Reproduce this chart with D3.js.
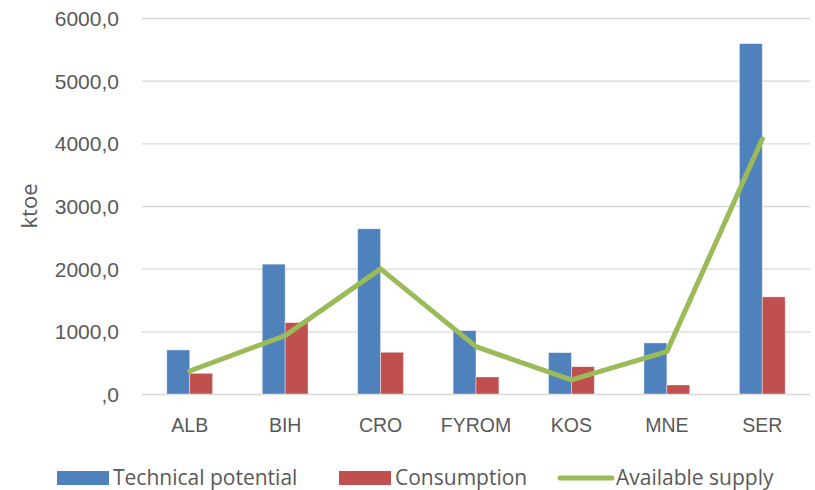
<!DOCTYPE html>
<html>
<head>
<meta charset="utf-8">
<script src="https://cdn.jsdelivr.net/npm/d3@7"></script>
<style>
  html, body { margin: 0; padding: 0; background: #fff; }
  svg { display: block; font-family: "Open Sans", "Noto Sans", sans-serif; }
</style>
</head>
<body>
<svg id="chart" width="815" height="490"></svg>
<script>
// Biomass energy by country (ktoe)
const categories = ["ALB", "BIH", "CRO", "FYROM", "KOS", "MNE", "SER"];
const technicalPotential = [703, 2072, 2636, 1011, 660, 815, 5591];
const consumption = [330, 1139, 666, 272, 436, 144, 1550];
const availableSupply = [367, 931, 1997, 756, 224, 676, 4068];
const yTicks = [0, 1000, 2000, 3000, 4000, 5000, 6000];
const seriesNames = ["Technical potential", "Consumption", "Available supply"];

const colors = { tech: "#4F81BD", cons: "#C0504D", supply: "#9BBB59" };
const textColor = "#595959";

const svg = d3.select("#chart");
const plot = { left: 142, right: 810, top: 18, bottom: 394 };

const x = d3.scaleBand().domain(categories).range([plot.left, plot.right]).padding(0);
const y = d3.scaleLinear().domain([0, 6000]).range([plot.bottom, plot.top]);
const barW = x.bandwidth() * 0.24;

// Gridlines and value axis
const yAxis = d3.axisLeft(y)
  .tickValues(yTicks)
  .tickSize(-(plot.right - plot.left))
  .tickPadding(23)
  .tickFormat(d => d === 0 ? ",0" : d3.format(".1f")(d).replace(".", ","));

const gy = svg.append("g").attr("transform", `translate(${plot.left},0)`).call(yAxis);
gy.select(".domain").remove();
gy.selectAll(".tick line").attr("stroke", "#D9D9D9").attr("stroke-width", 1.3);
gy.selectAll(".tick text")
  .attr("fill", textColor).attr("font-size", 21).attr("dy", "0.35em");

// Category axis
const xAxis = d3.axisBottom(x).tickSize(0).tickPadding(31);
const gx = svg.append("g").attr("transform", `translate(0,${plot.bottom})`).call(xAxis);
gx.select(".domain").remove();
gx.selectAll(".tick text").attr("fill", textColor).attr("font-size", 19.5).attr("dy", "0.35em");

// Bars
const center = c => x(c) + x.bandwidth() / 2;
svg.append("g").selectAll("rect")
  .data(categories.map((c, i) => ({ c, v: technicalPotential[i] })))
  .join("rect")
  .attr("x", d => center(d.c) - barW)
  .attr("y", d => y(d.v))
  .attr("width", barW)
  .attr("height", d => y(0) - y(d.v))
  .attr("fill", colors.tech)
  .attr("stroke", "#ffffff").attr("stroke-opacity", 0.5).attr("stroke-width", 0.8);

svg.append("g").selectAll("rect")
  .data(categories.map((c, i) => ({ c, v: consumption[i] })))
  .join("rect")
  .attr("x", d => center(d.c))
  .attr("y", d => y(d.v))
  .attr("width", barW)
  .attr("height", d => y(0) - y(d.v))
  .attr("fill", colors.cons)
  .attr("stroke", "#ffffff").attr("stroke-opacity", 0.5).attr("stroke-width", 0.8);

// Available supply line
const line = d3.line()
  .x((d, i) => center(categories[i]))
  .y(d => y(d));
svg.append("path")
  .datum(availableSupply)
  .attr("d", line)
  .attr("fill", "none")
  .attr("stroke", colors.supply)
  .attr("stroke-width", 5)
  .attr("stroke-linejoin", "round")
  .attr("stroke-linecap", "round");

// Axis title
svg.append("text")
  .attr("transform", "translate(37,206) rotate(-90)")
  .attr("text-anchor", "middle")
  .attr("fill", textColor)
  .attr("font-size", 22)
  .text("ktoe");

// Legend
const legendY = 478;
const legend = svg.append("g").attr("font-size", 21).attr("fill", textColor);
const items = [
  { name: seriesNames[0], x: 57, type: "rect", color: colors.tech },
  { name: seriesNames[1], x: 339, type: "rect", color: colors.cons },
  { name: seriesNames[2], x: 560, type: "line", color: colors.supply }
];
items.forEach(it => {
  if (it.type === "rect") {
    legend.append("rect").attr("x", it.x).attr("y", legendY - 7)
      .attr("width", 52).attr("height", 14).attr("fill", it.color);
  } else {
    legend.append("line").attr("x1", it.x).attr("x2", it.x + 52)
      .attr("y1", legendY).attr("y2", legendY)
      .attr("stroke", it.color).attr("stroke-width", 5).attr("stroke-linecap", "round");
  }
  legend.append("text").attr("x", it.x + 56).attr("y", legendY).attr("dy", "0.35em")
    .attr("fill", textColor).text(it.name);
});
</script>
</body>
</html>
